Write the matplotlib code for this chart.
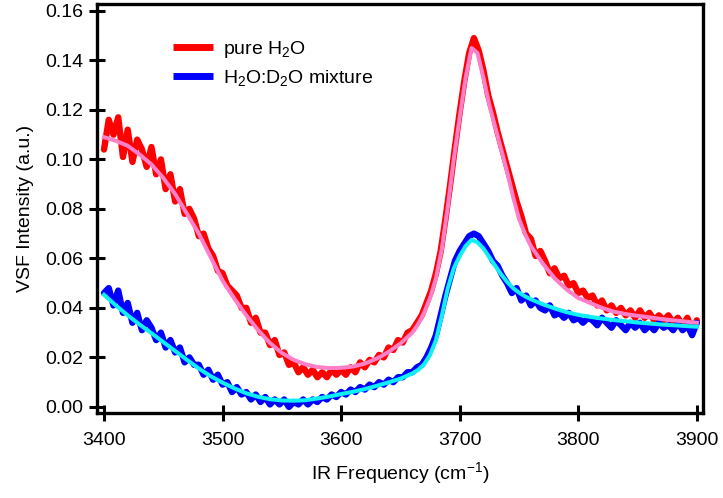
import numpy as np
import matplotlib
matplotlib.use("Agg")
import matplotlib.pyplot as plt

plt.rcParams['font.family'] = ['Liberation Sans', 'DejaVu Sans']
plt.rcParams['mathtext.default'] = 'regular'

# ---- data ----
freq = np.arange(3400, 3901, 4)

h2o_data = [
    0.104, 0.116, 0.110, 0.117, 0.101, 0.112, 0.099, 0.108, 0.104, 0.097,
    0.105, 0.094, 0.100, 0.088, 0.094, 0.083, 0.088, 0.078, 0.080, 0.076,
    0.069, 0.070, 0.064, 0.061, 0.055, 0.054, 0.049, 0.047, 0.045, 0.040,
    0.040, 0.034, 0.036, 0.030, 0.030, 0.025, 0.027, 0.021, 0.022, 0.017,
    0.018, 0.014, 0.016, 0.013, 0.015, 0.012, 0.014, 0.012, 0.015, 0.013,
    0.015, 0.013, 0.016, 0.014, 0.018, 0.016, 0.019, 0.018, 0.021, 0.020,
    0.024, 0.023, 0.027, 0.026, 0.030, 0.031, 0.034, 0.037, 0.042, 0.047,
    0.054, 0.063, 0.076, 0.090, 0.105, 0.119, 0.132, 0.143, 0.149, 0.144,
    0.136, 0.126, 0.119, 0.111, 0.104, 0.097, 0.090, 0.083, 0.077, 0.070,
    0.068, 0.061, 0.063, 0.059, 0.054, 0.056, 0.052, 0.053, 0.049, 0.050,
    0.046, 0.047, 0.044, 0.045, 0.041, 0.043, 0.039, 0.041, 0.038, 0.040,
    0.037, 0.039, 0.036, 0.039, 0.036, 0.038, 0.035, 0.037, 0.035, 0.037,
    0.034, 0.036, 0.033, 0.036, 0.031, 0.035,
]

mix_data = [
    0.046, 0.048, 0.041, 0.047, 0.038, 0.042, 0.034, 0.038, 0.031, 0.035,
    0.032, 0.027, 0.030, 0.024, 0.027, 0.022, 0.024, 0.018, 0.020, 0.017,
    0.017, 0.013, 0.015, 0.011, 0.013, 0.009, 0.010, 0.006, 0.008, 0.005,
    0.006, 0.003, 0.005, 0.002, 0.004, 0.001, 0.003, 0.001, 0.003, 0.000,
    0.002, 0.001, 0.003, 0.001, 0.003, 0.002, 0.004, 0.003, 0.005, 0.004,
    0.006, 0.005, 0.007, 0.006, 0.008, 0.007, 0.009, 0.008, 0.010, 0.009,
    0.011, 0.010, 0.012, 0.012, 0.014, 0.014, 0.016, 0.017, 0.020, 0.024,
    0.029, 0.037, 0.045, 0.052, 0.059, 0.063, 0.066, 0.069, 0.070, 0.069,
    0.066, 0.063, 0.059, 0.057, 0.053, 0.050, 0.046, 0.048, 0.043, 0.045,
    0.041, 0.043, 0.040, 0.039, 0.041, 0.037, 0.038, 0.036, 0.038, 0.035,
    0.036, 0.034, 0.036, 0.035, 0.033, 0.036, 0.034, 0.032, 0.035, 0.033,
    0.031, 0.034, 0.032, 0.034, 0.031, 0.033, 0.031, 0.034, 0.032, 0.033,
    0.031, 0.034, 0.031, 0.033, 0.029, 0.034,
]

fit_freq = [3400, 3410, 3420, 3430, 3440, 3450, 3460, 3470, 3480, 3490,
            3500, 3510, 3520, 3530, 3540, 3550, 3560, 3570, 3580, 3590,
            3600, 3610, 3620, 3630, 3640, 3650, 3660, 3665, 3670, 3675,
            3680, 3685, 3690, 3695, 3700, 3705, 3710, 3715, 3720, 3725,
            3730, 3735, 3740, 3745, 3750, 3755, 3760, 3770, 3780, 3790,
            3800, 3810, 3820, 3830, 3840, 3850, 3860, 3870, 3880, 3890, 3900]

h2o_fit = [0.109, 0.1075, 0.1055, 0.102, 0.098, 0.0925, 0.086, 0.078, 0.070, 0.0605,
           0.051, 0.0437, 0.037, 0.031, 0.0258, 0.0218, 0.019, 0.0172, 0.0161, 0.0157,
           0.0158, 0.0163, 0.0175, 0.0195, 0.0222, 0.0256, 0.030, 0.0335, 0.038, 0.044,
           0.052, 0.064, 0.081, 0.100, 0.117, 0.133, 0.145, 0.143, 0.133, 0.122,
           0.113, 0.104, 0.095, 0.085, 0.076, 0.070, 0.065, 0.058, 0.052, 0.0475,
           0.044, 0.042, 0.040, 0.0385, 0.0375, 0.0368, 0.0362, 0.0355, 0.035, 0.0345, 0.034]

mix_fit = [0.0453, 0.041, 0.037, 0.0333, 0.0298, 0.0262, 0.0226, 0.019, 0.0155, 0.0124,
           0.0098, 0.0075, 0.0055, 0.0041, 0.0031, 0.0026, 0.0025, 0.0027, 0.0034, 0.0042,
           0.0052, 0.0061, 0.0072, 0.0085, 0.0099, 0.0114, 0.0135, 0.015, 0.0172, 0.021,
           0.027, 0.037, 0.048, 0.056, 0.061, 0.065, 0.0675, 0.0665, 0.064, 0.0605,
           0.057, 0.0535, 0.0505, 0.048, 0.0462, 0.0447, 0.0435, 0.0415, 0.0398, 0.0383,
           0.0372, 0.0364, 0.0357, 0.0351, 0.0346, 0.0341, 0.0337, 0.0333, 0.033, 0.0327, 0.0324]

x_ticks = [3400, 3500, 3600, 3700, 3800, 3900]
y_ticks = [0.00, 0.02, 0.04, 0.06, 0.08, 0.10, 0.12, 0.14, 0.16]
series_labels = ['pure H$_2$O', 'H$_2$O:D$_2$O mixture']

# ---- figure ----
fig = plt.figure(figsize=(7.23, 4.98), dpi=100)
ax = fig.add_axes([0.134, 0.171, 0.838, 0.821])

ax.plot(freq, h2o_data, color='#ff0000', lw=4.6, solid_joinstyle='round', solid_capstyle='round',
        label=series_labels[0], zorder=2)
ax.plot(freq, mix_data, color='#0000ff', lw=4.6, solid_joinstyle='round', solid_capstyle='round',
        label=series_labels[1], zorder=2)
ax.plot(fit_freq, h2o_fit, color='#ff7fc8', lw=2.9, zorder=3)
ax.plot(fit_freq, mix_fit, color='#10f0f4', lw=2.9, zorder=3)

ax.set_xlim(3394, 3905)
ax.set_ylim(-0.0024, 0.1628)
ax.set_xticks(x_ticks)
ax.set_yticks(y_ticks)
ax.set_yticklabels([f'{v:.2f}' for v in y_ticks])

for s in ax.spines.values():
    s.set_linewidth(2.4)
ax.tick_params(direction='inout', length=11, width=2.2, labelsize=14, pad=4)
ax.tick_params(axis='x', pad=8)

ax.set_xlabel('IR Frequency (cm$^{-1}$)', fontsize=14, labelpad=8)
ax.set_ylabel('VSF Intensity (a.u.)', fontsize=14, labelpad=8)

leg = ax.legend(loc='upper left', bbox_to_anchor=(0.125, 0.915), frameon=False,
                fontsize=14, handlelength=2.1, handletextpad=0.5, labelspacing=0.4,
                borderpad=0, borderaxespad=0)
for h in leg.get_lines():
    h.set_linewidth(5)
    h.set_solid_capstyle('butt')

fig.savefig('out.png', dpi=100)
